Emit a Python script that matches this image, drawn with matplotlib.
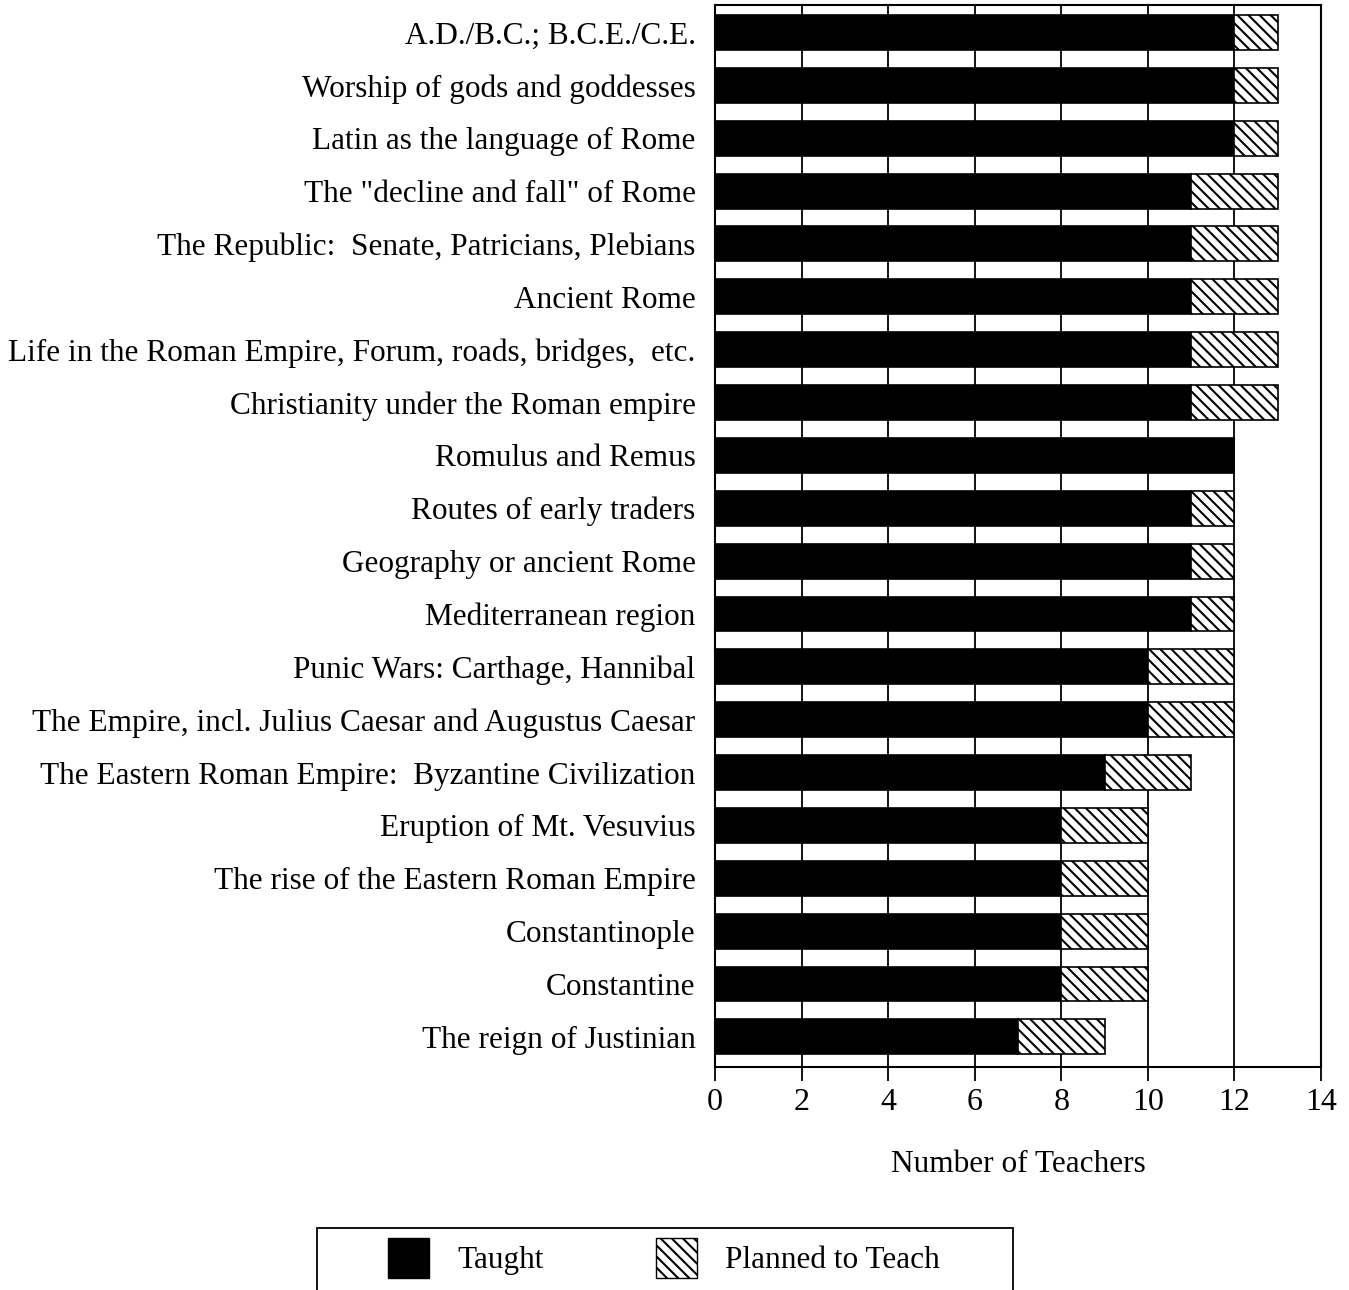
import matplotlib
matplotlib.use("Agg")
import matplotlib.pyplot as plt
from matplotlib.patches import Rectangle, Patch

topics = [
    "A.D./B.C.; B.C.E./C.E.",
    "Worship of gods and goddesses",
    "Latin as the language of Rome",
    "The \"decline and fall\" of Rome",
    "The Republic:  Senate, Patricians, Plebians",
    "Ancient Rome",
    "Life in the Roman Empire, Forum, roads, bridges,  etc.",
    "Christianity under the Roman empire",
    "Romulus and Remus",
    "Routes of early traders",
    "Geography or ancient Rome",
    "Mediterranean region",
    "Punic Wars: Carthage, Hannibal",
    "The Empire, incl. Julius Caesar and Augustus Caesar",
    "The Eastern Roman Empire:  Byzantine Civilization",
    "Eruption of Mt. Vesuvius",
    "The rise of the Eastern Roman Empire",
    "Constantinople",
    "Constantine",
    "The reign of Justinian",
]
taught = [12, 12, 12, 11, 11, 11, 11, 11, 12, 11, 11, 11, 10, 10, 9, 8, 8, 8, 8, 7]
planned = [1, 1, 1, 2, 2, 2, 2, 2, 0, 1, 1, 1, 2, 2, 2, 2, 2, 2, 2, 2]
xticks = [0, 2, 4, 6, 8, 10, 12, 14]

plt.rcParams['font.family'] = ['Liberation Serif', 'DejaVu Serif']
plt.rcParams['hatch.linewidth'] = 1.5

fig = plt.figure(figsize=(13.49, 12.90), dpi=100)
ax = fig.add_axes([715/1349, 1-1067/1290, (1321-715)/1349, (1067-5)/1290])

ypos = list(range(len(topics)))
h = 0.66
ax.barh(ypos, taught, height=h, color='black', edgecolor='black', linewidth=1.2, zorder=3)
ax.barh(ypos, planned, left=taught, height=h, color='white', edgecolor='black',
        hatch='\\\\\\', linewidth=1.2, zorder=3)

ax.set_xlim(0, 14)
ax.set_ylim(19.57, -0.52)
ax.set_xticks(xticks)
ax.set_xticklabels([str(t) for t in xticks], fontsize=23)
ax.set_yticks(ypos)
ax.set_yticklabels(topics, fontsize=22.5)
ax.tick_params(axis='y', length=0, pad=14)
ax.tick_params(axis='x', direction='out', length=10, width=1.3, pad=5)
for x in xticks[1:-1]:
    ax.axvline(x, color='black', linewidth=1.3, zorder=1)
for s in ax.spines.values():
    s.set_linewidth(1.5)
ax.set_xlabel("Number of Teachers", fontsize=22.5, labelpad=24)

# legend box (extends past the bottom edge, as in the reference)
fig.patches.append(Rectangle((317/1349, -0.05), (1013-317)/1349, (0.05 + 1 - 1228/1290),
                             transform=fig.transFigure, fill=False, edgecolor='black',
                             linewidth=1.3))
handles = [Patch(facecolor='black', edgecolor='black', label='Taught'),
           Patch(facecolor='white', edgecolor='black', hatch='\\\\\\', label='Planned to Teach')]
fig.legend(handles=handles, loc='center', bbox_to_anchor=(664/1349, 1-1258/1290), ncol=2,
           frameon=False, fontsize=22.5, handlelength=1.3, handleheight=1.6,
           columnspacing=3.6, handletextpad=0.9)

fig.savefig("out.png", dpi=100)
